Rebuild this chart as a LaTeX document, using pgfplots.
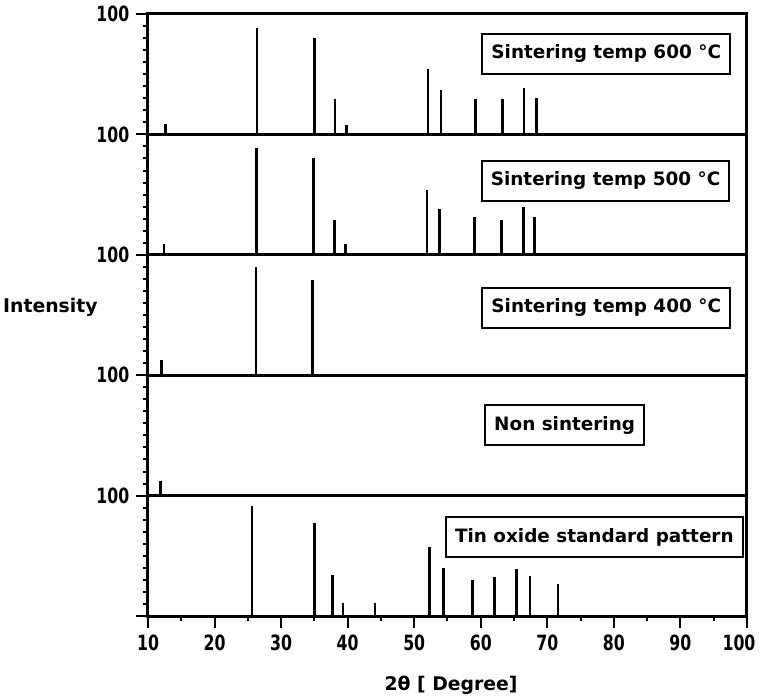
\documentclass[border=0pt]{standalone}
\usepackage{fontspec}
\setmainfont{DejaVu Sans}
\newfontfamily\tickfont{DejaVu Sans}[FakeStretch=0.75]
\usepackage{pgfplots}
\pgfplotsset{compat=1.18}

% one stacked panel of the XRD stick patterns
\pgfplotsset{
  panel/.style={
    scale only axis, width=299.5pt, height=60.2pt,
    xmin=10, xmax=100, ymin=0, ymax=100,
    anchor=north west, clip=false,
    axis line style={line width=1.5pt},
    ytick={0,100}, yticklabels={,100}, minor ytick={10,20,...,90},
    ytick pos=left, xtick=\empty,
    tick align=outside,
    major tick length=5.8pt, minor tick length=2.7pt,
    every tick/.style={black, line width=1pt},
    tick label style={font=\tickfont\bfseries\fontsize{10.5}{11}\selectfont},
    /pgf/number format/assume math mode=true,
  },
  stick/.style={ycomb, black, line width=1.3pt, mark=none},
}
\tikzset{
  tag/.style={draw, line width=1pt, fill=white,
    font=\bfseries\fontsize{9.2}{10}\selectfont,
    inner xsep=4.5pt, inner ysep=5.5pt, text height=7pt, text depth=2pt},
}

\begin{document}
\begin{tikzpicture}
\useasboundingbox (-74pt,7pt) rectangle (306pt,-342.5pt);

% 600 C
\begin{axis}[panel, at={(0,0)}]
\addplot[stick] coordinates {
  (12.6,8.4)(26.4,88)(35.0,80)(38.1,29)(39.8,7.5)(52.1,54)(54.0,37)
  (59.2,29.5)(63.3,29.5)(66.5,38.5)(68.4,30)};
\node[tag, anchor=east] at (axis cs:97.6,67) {Sintering temp 600 °C};
\end{axis}

% 500 C
\begin{axis}[panel, at={(0,-60.2pt)}]
\addplot[stick] coordinates {
  (12.4,9)(26.3,89)(34.9,80)(38.0,29)(39.7,9)(51.9,54)(53.8,38)
  (59.1,31)(63.1,29)(66.4,40)(68.1,31)};
\node[tag, anchor=east] at (axis cs:97.5,61.7) {Sintering temp 500 °C};
\end{axis}

% 400 C
\begin{axis}[panel, at={(0,-120.4pt)}]
\addplot[stick] coordinates {(12.0,13)(26.2,90)(34.7,79)};
\node[tag, anchor=east] at (axis cs:97.6,56) {Sintering temp 400 °C};
\node[font=\bfseries\fontsize{9.4}{10}\selectfont]
  at (rel axis cs:-0.163,0.562) {Intensity};
\end{axis}

% non sintered
\begin{axis}[panel, at={(0,-180.6pt)}]
\addplot[stick] coordinates {(11.9,12.5)};
\node[tag] at (axis cs:72.6,58.6) {Non sintering};
\end{axis}

% SnO2 reference pattern
\begin{axis}[panel, at={(0,-240.8pt)},
  xtick={10,20,...,100}, minor xtick={15,25,...,95}, xtick pos=bottom,
  xticklabels={10,20,30,40,50,60,70,80,90,{\hspace*{-8pt}100}},
  xlabel={2θ [ Degree]},
  xlabel style={at={(rel axis cs:0.506,0)}, anchor=center, yshift=-34.5pt,
    font=\bfseries\fontsize{9.4}{10}\selectfont}]
\addplot[stick] coordinates {
  (25.6,91)(35.0,77)(37.7,34)(39.3,10.6)(44.1,11)(52.3,57)(54.4,40)
  (58.8,30)(62.1,32)(65.4,39)(67.4,33)(71.6,26.5)};
\node[tag, anchor=east] at (axis cs:99.5,65.6) {Tin oxide standard pattern};
\end{axis}
\end{tikzpicture}
\end{document}
